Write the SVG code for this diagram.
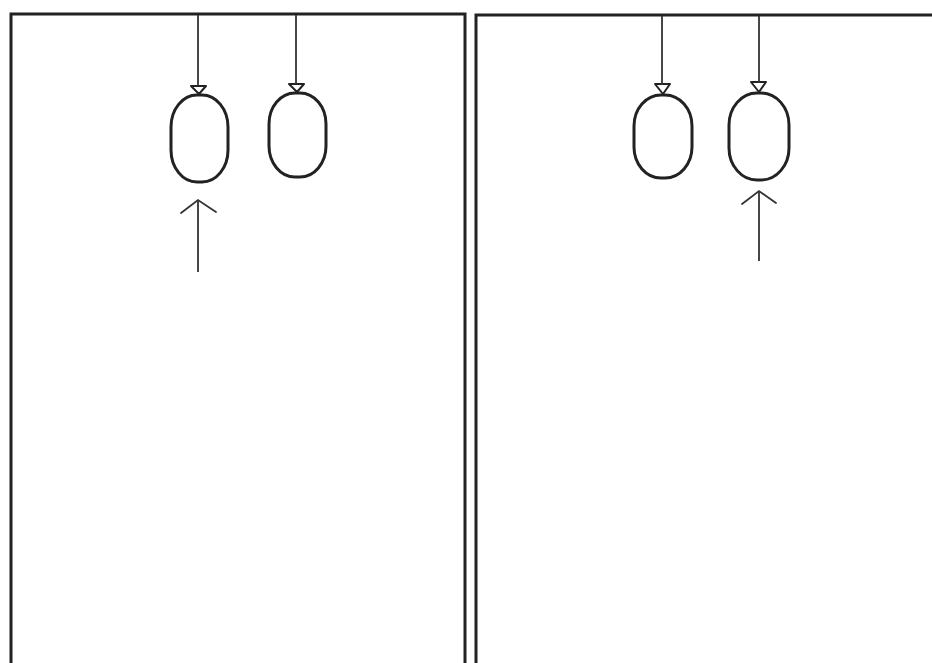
<svg xmlns="http://www.w3.org/2000/svg" width="932" height="663" viewBox="0 0 932 663">
<style>
.panel{fill:none;stroke:#222;stroke-width:3}
.bag{fill:none;stroke:#222;stroke-width:3}
.knot{fill:none;stroke:#222;stroke-width:2;stroke-linejoin:round}
.line{fill:none;stroke:#333;stroke-width:1.8}
.chev{fill:none;stroke:#333;stroke-width:1.8;stroke-linecap:round}
</style>
<rect width="932" height="663" fill="#fff"/>
<g id="panel-left"><rect class="panel" x="11" y="14" width="454" height="720"/></g>
<g id="panel-right"><rect class="panel" x="476" y="15" width="520" height="720"/></g>
<g id="bag1">
  <rect class="bag" x="171" y="95" width="57" height="87" rx="26" ry="32"/>
  <path class="knot" d="M191,86 L206,86 L199,94 Z"/>
</g>
<g id="bag2">
  <rect class="bag" x="269" y="93" width="57" height="84" rx="26" ry="31"/>
  <path class="knot" d="M289,84 L304,84 L297,92 Z"/>
</g>
<g id="bag3">
  <rect class="bag" x="634" y="95" width="58" height="83" rx="27" ry="31"/>
  <path class="knot" d="M655,84 L670,84 L663,94 Z"/>
</g>
<g id="bag4">
  <rect class="bag" x="729" y="93" width="60" height="87" rx="28" ry="32"/>
  <path class="knot" d="M751,82 L766,82 L759,92 Z"/>
</g>
<g id="connectors">
  <line class="line" x1="198" y1="15" x2="198" y2="86"/>
  <line class="line" x1="296" y1="15" x2="296" y2="84"/>
  <line class="line" x1="662" y1="16" x2="662" y2="85"/>
  <line class="line" x1="759" y1="16" x2="759" y2="83"/>
  <line class="line" x1="198" y1="201" x2="198" y2="272"/>
  <path class="chev" d="M181,213 L198,200 L216,212"/>
  <line class="line" x1="759" y1="191" x2="759" y2="261"/>
  <path class="chev" d="M742,204 L759,191 L776,203"/>
</g>
</svg>
